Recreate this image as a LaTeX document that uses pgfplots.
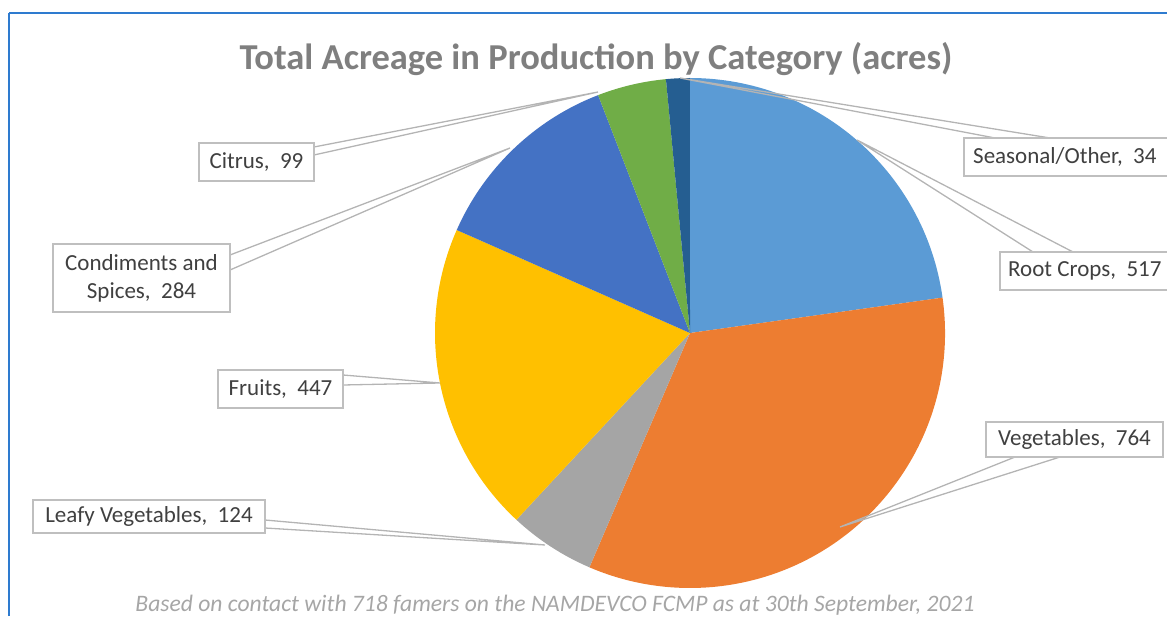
\documentclass[border=0pt]{standalone}
\usepackage{pgfplots}
\pgfplotsset{compat=1.18}
\usepackage{pgfplotstable}
\usepackage{fontspec}
\setmainfont{Carlito}
\definecolor{cRoot}{HTML}{5B9BD5}
\definecolor{cVeg}{HTML}{ED7D31}
\definecolor{cLeafy}{HTML}{A5A5A5}
\definecolor{cFruit}{HTML}{FFC000}
\definecolor{cCond}{HTML}{4472C4}
\definecolor{cCitrus}{HTML}{70AD47}
\definecolor{cSeas}{HTML}{255E91}
\definecolor{titlegray}{HTML}{7F7F7F}
\definecolor{labtext}{HTML}{404040}
\definecolor{boxgray}{HTML}{BFBFBF}
\definecolor{leadgray}{HTML}{B4B4B4}
\definecolor{footgray}{HTML}{A6A6A6}
\definecolor{frameblue}{HTML}{2E7BCF}

% category, acres, colour (clockwise from 12 o'clock)
\pgfplotstableread{
name value col
Root 517 cRoot
Vegetables 764 cVeg
Leafy 124 cLeafy
Fruits 447 cFruit
Condiments 284 cCond
Citrus 99 cCitrus
Seasonal 34 cSeas
}\piedata

\begin{document}
\begin{tikzpicture}
\useasboundingbox (0,0) rectangle (1167pt,616pt);
\clip (0,0) rectangle (1167pt,616pt);
\begin{axis}[
  at={(0,0)}, anchor=south west,
  scale only axis, width=1167pt, height=616pt,
  xmin=0, xmax=1167, ymin=0, ymax=616,
  hide axis, clip=false,
]
\addplot[draw=none] coordinates {(0,0) (1167,616)};
% total
\pgfplotstablegetrowsof{\piedata}
\pgfmathtruncatemacro\nrows{\pgfplotsretval-1}
\gdef\pietotal{0}
\pgfplotsforeachungrouped \i in {0,...,\nrows}{%
  \pgfplotstablegetelem{\i}{value}\of\piedata
  \pgfmathsetmacro\tmp{\pietotal+\pgfplotsretval}%
  \global\let\pietotal\tmp
}
% slices
\gdef\pstart{90}
\pgfplotsforeachungrouped \i in {0,...,\nrows}{%
  \pgfplotstablegetelem{\i}{value}\of\piedata
  \let\pv\pgfplotsretval
  \pgfplotstablegetelem{\i}{col}\of\piedata
  \let\pc\pgfplotsretval
  \pgfmathsetmacro\pend{\pstart-\pv/\pietotal*360}%
  \edef\cmd{\noexpand\fill[\pc] (axis cs:690,283) -- ++(\pstart:255pt) arc[start angle=\pstart, end angle=\pend, radius=255pt] -- cycle;}%
  \cmd
  \global\let\pstart\pend
}

% leader lines
\begin{scope}[leadgray, line width=1.3pt]
\draw (axis cs:995,478) -- (axis cs:680,538) -- (axis cs:1050,478);
\draw (axis cs:1033,364) -- (axis cs:857,476) -- (axis cs:1073,364);
\draw (axis cs:1015,159) -- (axis cs:840,89) -- (axis cs:1060,159);
\draw (axis cs:265,96) -- (axis cs:545,71) -- (axis cs:265,88);
\draw (axis cs:343,241) -- (axis cs:440,233) -- (axis cs:343,231);
\draw (axis cs:230,361) -- (axis cs:510,468) -- (axis cs:230,346);
\draw (axis cs:314,469) -- (axis cs:598,524) -- (axis cs:314,461);
\end{scope}

% label boxes
\begin{scope}[draw=boxgray, fill=white, line width=1.3pt]
\filldraw (axis cs:964,478) rectangle (axis cs:1200,440);
\filldraw (axis cs:1000,364) rectangle (axis cs:1200,326);
\filldraw (axis cs:986,194) rectangle (axis cs:1163,159);
\filldraw (axis cs:33,116) rectangle (axis cs:265,83);
\filldraw (axis cs:218,246) rectangle (axis cs:343,208);
\filldraw (axis cs:53,372) rectangle (axis cs:230,304);
\filldraw (axis cs:199,473) rectangle (axis cs:314,435);
\end{scope}

\begin{scope}[every node/.style={text=labtext, font=\fontsize{23}{28}\selectfont, inner sep=0pt}]
\node[anchor=west] at (axis cs:973,459) {Seasonal/Other,\ \ 34};
\node[anchor=west] at (axis cs:1008,345) {Root Crops,\ \ 517};
\node at (axis cs:1074.5,176.5) {Vegetables,\ \ 764};
\node at (axis cs:149,99.5) {Leafy Vegetables,\ \ 124};
\node at (axis cs:280.5,227) {Fruits,\ \ 447};
\node[align=center] at (axis cs:141.5,338) {Condiments and\\Spices,\ \ 284};
\node at (axis cs:256.5,454) {Citrus,\ \ 99};
\end{scope}

% title and footer
\node[anchor=base, text=titlegray, font=\fontsize{36.5}{42}\selectfont\bfseries, inner sep=0pt] at (axis cs:596,546) {Total Acreage in Production by Category (acres)};
\node[anchor=base, text=footgray, font=\fontsize{23.6}{28}\selectfont\itshape, inner sep=0pt] at (axis cs:555,5) {Based on contact with 718 famers on the NAMDEVCO FCMP as at 30th September, 2021};

% selection frame
\draw[frameblue, line width=1.6pt] (axis cs:9,0) -- (axis cs:9,603);
\draw[frameblue, line width=1.6pt] (axis cs:9,603) -- (axis cs:1167,603);
\end{axis}
\end{tikzpicture}
\end{document}
